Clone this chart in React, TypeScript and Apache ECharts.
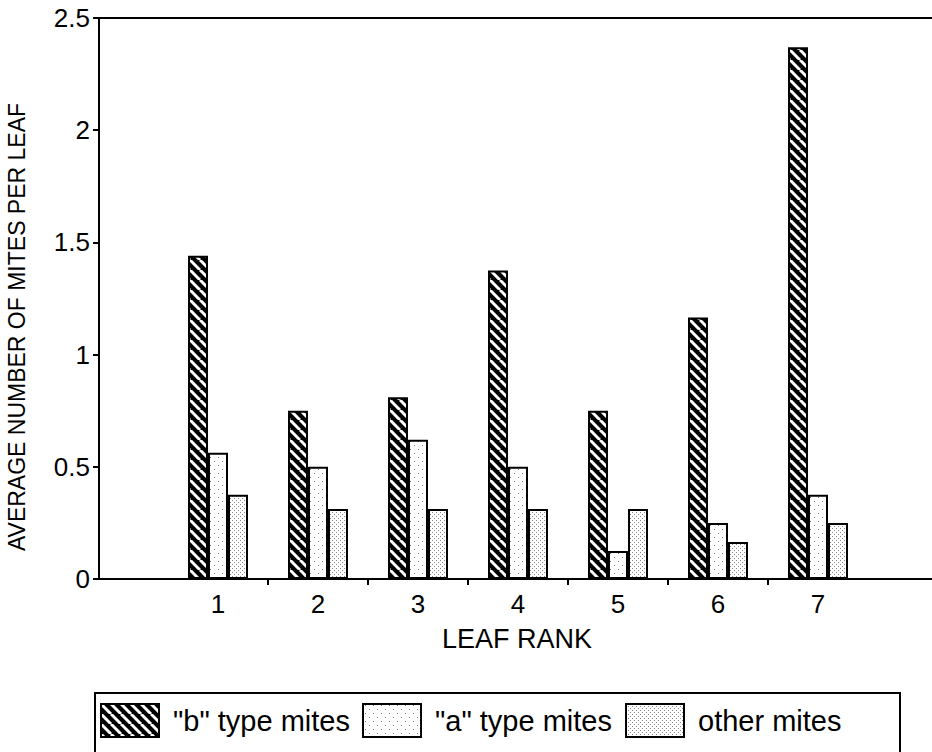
import React, { useEffect, useRef } from 'react';
import * as echarts from 'echarts';

const leafRanks = [1, 2, 3, 4, 5, 6, 7];
const bTypeMites = [1.44, 0.75, 0.81, 1.375, 0.75, 1.165, 2.37];
const aTypeMites = [0.5625, 0.5, 0.62, 0.5, 0.125, 0.25, 0.375];
const otherMites = [0.375, 0.3125, 0.3125, 0.3125, 0.3125, 0.165, 0.25];
const rankTickBoundaries = [1.5, 2.5, 3.5, 4.5, 5.5, 6.5];
const seriesNames = ['"b" type mites', '"a" type mites', 'other mites'];
const yAxisTitle = 'AVERAGE NUMBER OF MITES PER LEAF';
const xAxisTitle = 'LEAF RANK';

const FONT = '"Liberation Sans", Arial, Helvetica, sans-serif';

function makePattern(kind: string) {
  const c = document.createElement('canvas');
  let size = 10;
  if (kind === 'hatch') {
    size = 10;
    c.width = size; c.height = size;
    const g = c.getContext('2d')!;
    g.fillStyle = '#000';
    g.fillRect(0, 0, size, size);
    g.strokeStyle = '#fff';
    g.lineWidth = 3;
    for (const k of [-size, 0, size]) {
      g.beginPath();
      g.moveTo(k, 0);
      g.lineTo(k + size, size);
      g.stroke();
    }
  } else if (kind === 'sparse') {
    size = 8;
    c.width = size; c.height = size;
    const g = c.getContext('2d')!;
    g.fillStyle = '#fff';
    g.fillRect(0, 0, size, size);
    g.fillStyle = '#777';
    g.fillRect(2, 1, 1, 1);
    g.fillRect(6, 5, 1, 1);
  } else {
    size = 4;
    c.width = size; c.height = size;
    const g = c.getContext('2d')!;
    g.fillStyle = '#fff';
    g.fillRect(0, 0, size, size);
    g.fillStyle = '#888';
    g.fillRect(0, 0, 1, 1);
    g.fillRect(2, 2, 1, 1);
  }
  return { image: c, repeat: 'repeat', imageWidth: size, imageHeight: size } as any;
}

export default function App() {
  const ref = useRef<HTMLDivElement>(null);
  useEffect(() => {
    if (!ref.current) return;
    const chart = echarts.init(ref.current, null, { renderer: 'svg' });
    const patterns = [makePattern('hatch'), makePattern('sparse'), makePattern('dense')];
    const values = [bTypeMites, aTypeMites, otherMites];
    const legendLefts = [100, 362, 625];
    const option: any = {
      animation: false,
      backgroundColor: '#fff',
      textStyle: { fontFamily: FONT, color: '#000' },
      grid: {
        left: 99, right: -3, top: 18, bottom: 173,
        show: true, borderColor: '#000', borderWidth: 2,
        containLabel: false, outerBoundsMode: 'none'
      },
      xAxis: {
        type: 'value',
        min: -0.19,
        max: 8.17,
        name: xAxisTitle,
        nameLocation: 'middle',
        nameGap: 46,
        nameTextStyle: { fontSize: 27, color: '#000', fontFamily: FONT },
        axisLine: { show: true, onZero: false, lineStyle: { color: '#000', width: 2 } },
        axisTick: { show: true, customValues: rankTickBoundaries, length: 6, lineStyle: { color: '#000', width: 2 } },
        axisLabel: { customValues: leafRanks, fontSize: 26, color: '#000', margin: 12, fontFamily: FONT },
        splitLine: { show: false }
      },
      yAxis: {
        type: 'value',
        min: 0,
        max: 2.5,
        interval: 0.5,
        axisLine: { show: true, onZero: false, lineStyle: { color: '#000', width: 2 } },
        axisTick: { show: true, length: 6, lineStyle: { color: '#000', width: 2 } },
        axisLabel: { fontSize: 26, color: '#000', margin: 9, fontFamily: FONT },
        splitLine: { show: false }
      },
      legend: seriesNames.map((n, i) => ({
        data: [n],
        left: legendLefts[i],
        top: 703,
        padding: 0,
        itemGap: 0,
        itemWidth: 58,
        itemHeight: 33,
        icon: 'rect',
        selectedMode: false,
        textStyle: { fontSize: 29, color: '#000', fontFamily: FONT, padding: [0, 0, 0, 9] }
      })),
      series: seriesNames.map((n, i) => ({
        type: 'bar',
        name: n,
        data: leafRanks.map((r, j) => [r, values[i][j]]),
        barWidth: 20,
        barGap: '0%',
        itemStyle: { color: patterns[i], borderColor: '#000', borderWidth: 2 }
      })),
      graphic: [
        {
          type: 'rect',
          shape: { x: 95, y: 693, width: 805, height: 90 },
          style: { fill: 'none', stroke: '#000', lineWidth: 2 },
          silent: true
        },
        {
          type: 'text',
          x: 17,
          y: 327,
          rotation: Math.PI / 2,
          style: { text: yAxisTitle, fontSize: 23, fill: '#000', fontFamily: FONT, align: 'center', verticalAlign: 'middle' },
          silent: true
        }
      ]
    };
    chart.setOption(option);
    return () => chart.dispose();
  }, []);
  return <div ref={ref} style={{ position: 'absolute', left: 0, top: 0, width: 932, height: 752 }} />;
}
